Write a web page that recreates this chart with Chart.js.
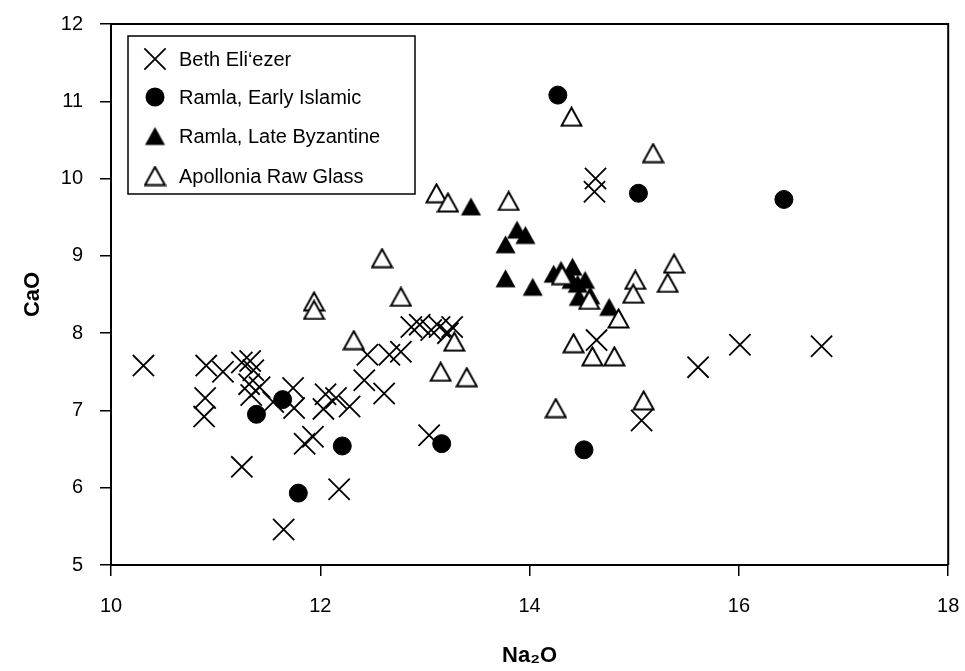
<!DOCTYPE html>
<html>
<head>
<meta charset="utf-8">
<style>
  html, body { margin: 0; padding: 0; background: #fff; }
  #wrap { width: 965px; height: 671px; }
</style>
<script src="https://cdn.jsdelivr.net/npm/chart.js"></script>
</head>
<body>
<div id="wrap"><canvas id="chart" width="965" height="671"></canvas></div>
<script>
// ========== DATA ==========
const seriesNames = ['Beth Eli\u2018ezer', 'Ramla, Early Islamic', 'Ramla, Late Byzantine', 'Apollonia Raw Glass'];

const bethNa2O = [10.31, 10.91, 11.07, 10.90, 10.89, 11.25, 11.33, 11.36, 11.32, 11.42, 11.34, 11.55, 11.74, 11.75,
  12.05, 12.03, 12.15, 12.28, 11.93, 11.85, 11.25, 12.18, 11.65, 12.42, 12.61, 12.45, 12.66, 12.77,
  12.87, 12.95, 13.06, 13.14, 13.22, 13.26, 13.04, 14.63, 14.62, 14.64, 15.61, 16.01, 16.79, 15.07];
const bethCaO = [7.58, 7.58, 7.50, 7.16, 6.92, 7.62, 7.64, 7.52, 7.34, 7.30, 7.20, 7.11, 7.29, 7.03,
  7.21, 7.02, 7.16, 7.05, 6.66, 6.57, 6.27, 5.98, 5.46, 7.39, 7.22, 7.72, 7.72, 7.76,
  8.08, 8.11, 8.04, 8.08, 8.00, 8.08, 6.68, 10.00, 9.83, 7.91, 7.56, 7.85, 7.83, 6.87];

const earlyNa2O = [14.27, 15.04, 16.43, 11.39, 11.64, 11.79, 12.21, 13.16, 14.52];
const earlyCaO  = [11.08, 9.81, 9.73, 6.95, 7.14, 5.93, 6.54, 6.57, 6.49];

const lateNa2O = [13.44, 13.88, 13.96, 13.77, 13.77, 14.03, 14.23, 14.30, 14.41, 14.40, 14.46, 14.53, 14.47, 14.58, 14.76];
const lateCaO  = [9.64, 9.34, 9.27, 9.15, 8.71, 8.60, 8.77, 8.82, 8.86, 8.69, 8.64, 8.69, 8.47, 8.49, 8.34];

const apolNa2O = [14.40, 15.18, 13.11, 13.22, 13.80, 12.59, 11.94, 11.94, 12.77, 12.32, 13.28, 13.15, 13.40,
  14.31, 14.57, 14.85, 15.01, 14.99, 15.38, 15.32, 14.42, 14.60, 14.81, 14.25, 15.09];
const apolCaO  = [10.80, 10.33, 9.81, 9.69, 9.71, 8.97, 8.41, 8.30, 8.47, 7.91, 7.89, 7.50, 7.43,
  8.75, 8.43, 8.19, 8.69, 8.51, 8.90, 8.65, 7.87, 7.70, 7.70, 7.03, 7.13];

const xTicks = [10, 12, 14, 16, 18];
const yTicks = [5, 6, 7, 8, 9, 10, 11, 12];

function toPoints(xs, ys) {
  return xs.map((x, i) => ({ x: x, y: ys[i] }));
}

const FONT = '"Liberation Sans", Arial, Helvetica, sans-serif';

// ========== TRIANGLE MARKERS (box-centred, like the original plot) ==========
function makeTriangle(filled) {
  const w = 23, h = 21;
  const c = document.createElement('canvas');
  c.width = w; c.height = h;
  const g = c.getContext('2d');
  g.beginPath();
  g.moveTo(w / 2, 1.5);
  g.lineTo(w - 1.5, h - 1.5);
  g.lineTo(1.5, h - 1.5);
  g.closePath();
  if (filled) {
    g.fillStyle = '#000';
    g.fill();
  } else {
    g.fillStyle = '#fff';
    g.fill();
    g.strokeStyle = '#000';
    g.lineWidth = 2;
    g.stroke();
  }
  return c;
}
const triFilled = makeTriangle(true);
const triOpen = makeTriangle(false);

// ========== LEGEND + FRAME PLUGIN ==========
function drawMarker(ctx, style, x, y) {
  ctx.save();
  ctx.strokeStyle = '#000';
  ctx.fillStyle = '#000';
  if (style === 'cross') {
    const d = 15 * Math.SQRT1_2;
    ctx.lineWidth = 1.8;
    ctx.beginPath();
    ctx.moveTo(x - d, y - d); ctx.lineTo(x + d, y + d);
    ctx.moveTo(x - d, y + d); ctx.lineTo(x + d, y - d);
    ctx.stroke();
  } else if (style === 'circle') {
    ctx.beginPath();
    ctx.arc(x, y, 9.5, 0, Math.PI * 2);
    ctx.fill();
  } else {
    const img = style === 'triFilled' ? triFilled : triOpen;
    ctx.drawImage(img, x - img.width / 2, y - img.height / 2);
  }
  ctx.restore();
}

const legendStyles = ['cross', 'circle', 'triFilled', 'triOpen'];
const legendRows = [59, 97, 136, 176];

const framePlugin = {
  id: 'frameAndLegend',
  afterDraw(chart) {
    const ctx = chart.ctx;
    const a = chart.chartArea;
    ctx.save();
    ctx.strokeStyle = '#000';
    ctx.lineWidth = 2;
    ctx.beginPath();
    ctx.moveTo(a.left, a.top); ctx.lineTo(a.right, a.top); ctx.lineTo(a.right, a.bottom);
    ctx.stroke();

    // legend box
    ctx.lineWidth = 1.5;
    ctx.strokeRect(128, 36, 287, 158);
    ctx.fillStyle = '#000';
    ctx.font = '20px ' + FONT;
    ctx.textBaseline = 'middle';
    ctx.textAlign = 'left';
    seriesNames.forEach((name, i) => {
      drawMarker(ctx, legendStyles[i], 155, legendRows[i]);
      ctx.fillText(name, 179, legendRows[i] + 1);
    });
    ctx.restore();
  }
};

// ========== CHART ==========
const ctx = document.getElementById('chart');
new Chart(ctx, {
  type: 'scatter',
  data: {
    datasets: [
      {
        label: seriesNames[0],
        data: toPoints(bethNa2O, bethCaO),
        pointStyle: 'crossRot',
        pointRadius: 15,
        borderColor: '#000',
        borderWidth: 1.8,
        order: 1
      },
      {
        label: seriesNames[1],
        data: toPoints(earlyNa2O, earlyCaO),
        pointStyle: 'circle',
        pointRadius: 9,
        backgroundColor: '#000',
        borderColor: '#000',
        borderWidth: 1,
        order: 2
      },
      {
        label: seriesNames[2],
        data: toPoints(lateNa2O, lateCaO),
        pointStyle: triFilled,
        pointRadius: 12,
        order: 3
      },
      {
        label: seriesNames[3],
        data: toPoints(apolNa2O, apolCaO),
        pointStyle: triOpen,
        pointRadius: 12,
        order: 0
      }
    ]
  },
  options: {
    responsive: false,
    animation: false,
    events: [],
    layout: { padding: { top: 24, right: 15, left: 0, bottom: 0 } },
    plugins: {
      legend: { display: false },
      tooltip: { enabled: false }
    },
    scales: {
      x: {
        type: 'linear',
        min: 10,
        max: 18,
        afterBuildTicks: s => { s.ticks = xTicks.map(v => ({ value: v })); },
        afterFit: s => { s.height = 106; s.paddingLeft = 0; s.paddingRight = 0; },
        grid: { drawOnChartArea: false, drawTicks: true, tickLength: 11, color: '#000', lineWidth: 1.5 },
        border: { display: true, color: '#000', width: 2 },
        ticks: { color: '#000', font: { family: FONT, size: 20 }, padding: 18, maxRotation: 0 },
        title: {
          display: true,
          text: 'Na\u2082O',
          color: '#000',
          font: { family: FONT, size: 22, weight: 'bold' },
          padding: { top: 0, bottom: 2 }
        }
      },
      y: {
        type: 'linear',
        min: 5,
        max: 12,
        afterBuildTicks: s => { s.ticks = yTicks.map(v => ({ value: v })); },
        afterFit: s => { s.width = 111; s.paddingTop = 0; s.paddingBottom = 0; },
        grid: { drawOnChartArea: false, drawTicks: true, tickLength: 11, color: '#000', lineWidth: 1.5 },
        border: { display: true, color: '#000', width: 2 },
        ticks: { color: '#000', font: { family: FONT, size: 20 }, padding: 17 },
        title: {
          display: true,
          text: 'CaO',
          color: '#000',
          font: { family: FONT, size: 22, weight: 'bold' },
          padding: { top: 20, bottom: 0 }
        }
      }
    }
  },
  plugins: [framePlugin]
});
</script>
</body>
</html>
